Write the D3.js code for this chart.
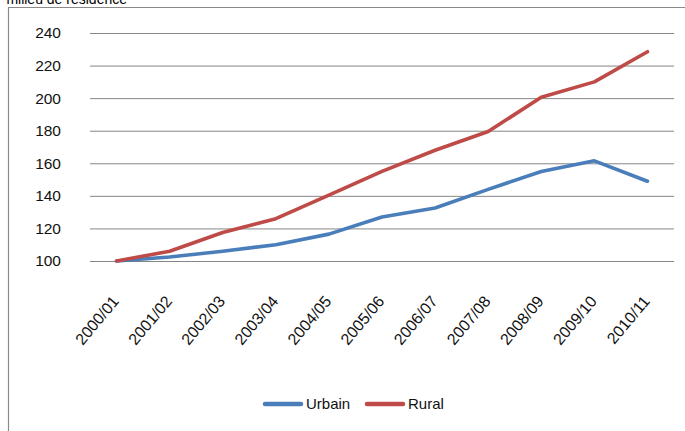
<!DOCTYPE html>
<html><head><meta charset="utf-8">
<script src="https://cdn.jsdelivr.net/npm/d3@7"></script>
<style>body{margin:0;background:#fff}svg{display:block}</style>
</head><body>
<svg id="c" width="685" height="431"></svg>
<script>
const categories = ["2000/01","2001/02","2002/03","2003/04","2004/05","2005/06","2006/07","2007/08","2008/09","2009/10","2010/11"];
const urbain = [100, 102.5, 106, 110, 116.5, 127, 132.5, 144, 155, 161.5, 149];
const rural  = [100, 106, 117.5, 126, 140.5, 155, 168, 179.5, 200.5, 210, 228.5];
const yTicks = [100,120,140,160,180,200,220,240];
const seriesNames = ["Urbain","Rural"];
const titleText = "milieu de résidence";

const svg = d3.select("#c");
const font = "'Liberation Sans', Arial, sans-serif";
const x = d3.scalePoint().domain(categories).range([90,674]).padding(0.5);
const y = d3.scaleLinear().domain([100,240]).range([261,33]);

// frame
svg.append("path").attr("d","M8.5,431V7.5H685").attr("fill","none").attr("stroke","#8a8a8a").attr("stroke-width",1.2);
svg.append("text").attr("x",127).attr("y",3.5).attr("text-anchor","end")
  .attr("font-family",font).attr("font-size",14).attr("fill","#000").text(titleText);

// gridlines + y labels
const ya = d3.axisLeft(y).tickValues(yTicks).tickSize(-(674-90)).tickPadding(29);
const g = svg.append("g").attr("transform","translate(90,0)").call(ya);
g.select(".domain").remove();
g.selectAll(".tick line").attr("stroke","#868686").attr("stroke-width",1);
g.selectAll(".tick text").attr("font-family",font).attr("font-size",15.5).attr("fill","#111");

// x labels
const xa = svg.append("g");
xa.selectAll("text").data(categories).join("text")
  .attr("transform",d=>`translate(${x(d)-1},${298}) rotate(-50)`)
  .attr("text-anchor","end").attr("dy","0.35em")
  .attr("font-family",font).attr("font-size",16).attr("fill","#111").text(d=>d);

// lines
const colors = ["#4a7ebb","#be4b48"];
const line = d3.line().x((d,i)=>x(categories[i])).y(d=>y(d));
[urbain, rural].forEach((s,k)=>{
  svg.append("path").datum(s).attr("d",line).attr("fill","none")
    .attr("stroke",colors[k]).attr("stroke-width",3.6)
    .attr("stroke-linecap","round").attr("stroke-linejoin","round");
});

// legend
const leg = [{x:265,name:seriesNames[0],c:colors[0]},{x:367,name:seriesNames[1],c:colors[1]}];
leg.forEach(l=>{
  svg.append("line").attr("x1",l.x).attr("x2",l.x+36).attr("y1",404).attr("y2",404)
    .attr("stroke",l.c).attr("stroke-width",4.5).attr("stroke-linecap","round");
  svg.append("text").attr("x",l.x+41).attr("y",404).attr("dy","0.35em")
    .attr("font-family",font).attr("font-size",15).attr("fill","#111").text(l.name);
});
</script>
</body></html>
